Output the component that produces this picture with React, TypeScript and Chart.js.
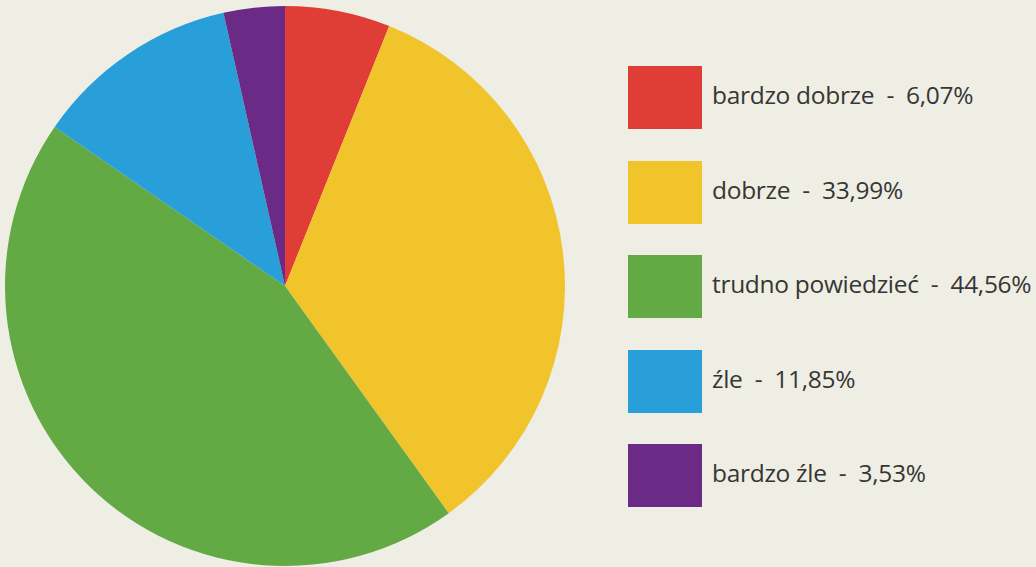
import React, { useEffect, useRef } from "react";
import { Chart, registerables } from "chart.js";

Chart.register(...registerables);

const categories = ["bardzo dobrze", "dobrze", "trudno powiedzieć", "źle", "bardzo źle"];
const values = [6.07, 33.99, 44.56, 11.85, 3.53];
const valueLabels = ["6,07%", "33,99%", "44,56%", "11,85%", "3,53%"];
const colors = ["#e03d36", "#f1c42b", "#63a944", "#289fd8", "#6b2a86"];

export default function App() {
  const ref = useRef<HTMLCanvasElement>(null);

  useEffect(() => {
    const chart = new Chart(ref.current!, {
      type: "pie",
      data: {
        labels: categories,
        datasets: [
          {
            data: values,
            backgroundColor: colors,
            borderWidth: 0,
          },
        ],
      },
      options: {
        responsive: false,
        animation: false,
        layout: { padding: 0 },
        plugins: {
          legend: { display: false },
          tooltip: { enabled: false },
        },
      },
    });
    return () => chart.destroy();
  }, []);

  return (
    <div
      style={{
        position: "fixed",
        left: 0,
        top: 0,
        width: 1036,
        height: 567,
        overflow: "hidden",
        background: "#efeee5",
      }}
    >
      <canvas
        ref={ref}
        width={560}
        height={566}
        style={{ position: "absolute", left: 5, top: 3, width: 560, height: 566 }}
      />
      {categories.map((c, i) => (
        <div
          key={c}
          style={{
            position: "absolute",
            left: 628,
            top: 66 + i * 94.5,
            height: 63,
            display: "flex",
            alignItems: "center",
            whiteSpace: "pre",
          }}
        >
          <div style={{ width: 74, height: 63, background: colors[i] }} />
          <span
            style={{
              marginLeft: 10,
              marginTop: -6,
              fontFamily: "'Open Sans', sans-serif",
              fontSize: 24.5,
              letterSpacing: -0.3,
              color: "#363634",
            }}
          >
            {c + "  -  " + valueLabels[i]}
          </span>
        </div>
      ))}
    </div>
  );
}
